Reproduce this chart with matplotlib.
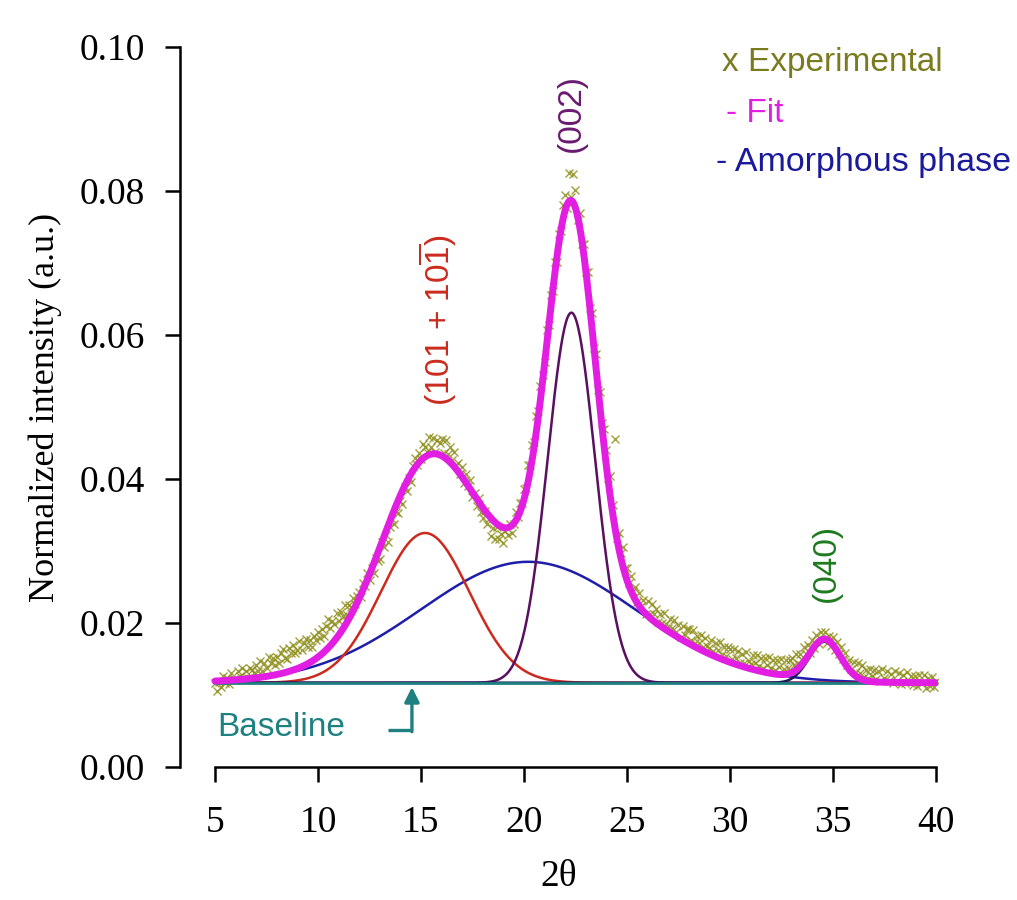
import numpy as np
import matplotlib
matplotlib.use("Agg")
import matplotlib.pyplot as plt

# ---------------- data ----------------
two_theta_start = 5.0
two_theta_step = 0.1
# experimental intensity, units of 1e-4, read every 0.1 deg from 5.0 to 40.0
exp_intensity_e4 = [
    117, 106, 118, 111, 127, 116, 123, 115, 130, 122,
    121, 134, 126, 137, 124, 134, 124, 138, 135, 131,
    142, 134, 147, 133, 144, 138, 153, 144, 151, 141,
    153, 145, 158, 164, 152, 150, 165, 159, 170, 159,
    162, 175, 162, 172, 178, 167, 177, 167, 182, 176,
    187, 179, 191, 182, 196, 205, 193, 203, 199, 214,
    203, 215, 210, 225, 211, 225, 222, 235, 226, 237,
    243, 236, 256, 252, 269, 260, 276, 269, 290, 286,
    289, 312, 306, 322, 313, 333, 344, 337, 354, 353,
    370, 365, 389, 384, 401, 396, 418, 429, 419, 436,
    428, 449, 445, 437, 459, 445, 457, 438, 454, 450,
    455, 436, 454, 435, 444, 427, 438, 419, 422, 407,
    416, 394, 407, 390, 399, 375, 381, 362, 373, 354,
    346, 356, 338, 344, 321, 332, 317, 333, 317, 324,
    311, 328, 322, 337, 325, 338, 354, 347, 366, 366,
    386, 387, 419, 420, 447, 451, 488, 494, 529, 544,
    562, 607, 614, 655, 661, 702, 701, 740, 744, 781,
    795, 776, 825, 792, 823, 802, 760, 769, 726, 726,
    688, 688, 638, 631, 582, 573, 524, 521, 478, 469,
    440, 402, 404, 364, 455, 318, 325, 297, 305, 277,
    276, 256, 265, 244, 250, 229, 242, 224, 232, 213,
    230, 213, 227, 213, 220, 201, 213, 200, 214, 198,
    193, 206, 193, 204, 188, 197, 181, 196, 184, 192,
    191, 177, 190, 172, 182, 172, 184, 167, 179, 168,
    165, 177, 161, 172, 162, 173, 155, 167, 154, 166,
    164, 150, 164, 151, 161, 145, 157, 145, 160, 147,
    143, 155, 145, 155, 140, 151, 138, 151, 141, 153,
    138, 149, 135, 149, 139, 150, 136, 148, 137, 148,
    151, 142, 157, 144, 157, 149, 167, 157, 169, 159,
    176, 165, 183, 171, 188, 176, 187, 172, 182, 168,
    180, 163, 174, 157, 167, 150, 158, 142, 149, 136,
    146, 132, 144, 130, 142, 125, 135, 123, 136, 126,
    135, 122, 133, 120, 136, 123, 134, 120, 129, 117,
    133, 120, 130, 115, 128, 116, 132, 120, 127, 114,
    127, 113, 128, 117, 128, 110, 123, 113, 125, 111,
    120,
]

baseline_level = 0.0117
# crystalline peaks: (101+10-1), (002), (040)
peak_names = ["(101 + 101)", "(002)", "(040)"]
peak_centers = [15.2, 22.3, 34.6]
peak_heights = [0.0208, 0.0514, 0.0057]
peak_sigmas = [2.15, 1.15, 0.75]
# amorphous halo
amorph_center = 20.2
amorph_height = 0.0168
amorph_sigma = 5.2

x_ticks = [5, 10, 15, 20, 25, 30, 35, 40]
y_ticks = [0.00, 0.02, 0.04, 0.06, 0.08, 0.10]
y_ticklabels = ["0.00", "0.02", "0.04", "0.06", "0.08", "0.10"]

# ---------------- style ----------------
plt.rcParams["mathtext.fontset"] = "custom"
plt.rcParams["mathtext.rm"] = "Liberation Sans"
plt.rcParams["mathtext.it"] = "Liberation Sans:italic"

c_exp = "#8E8E1C"
c_fit = "#E21EE2"
c_amorph = "#1E1EAA"
c_101 = "#CC2A1E"
c_002 = "#5A1060"
c_040 = "#1A1A55"
c_base = "#1E8080"

fig = plt.figure(figsize=(10.17, 9.0), dpi=100)
ax = fig.add_axes([180 / 1017, 133 / 900, 758 / 1017, 720 / 900])

x_exp = two_theta_start + two_theta_step * np.arange(len(exp_intensity_e4))
y_exp = np.array(exp_intensity_e4) * 1e-4

grid = np.linspace(5, 40, 1400)


def gauss(x, c, h, s):
    return h * np.exp(-((x - c) ** 2) / (2 * s ** 2))


comps = [gauss(grid, c, h, s) for c, h, s in zip(peak_centers, peak_heights, peak_sigmas)]
amorph = gauss(grid, amorph_center, amorph_height, amorph_sigma)
fit = baseline_level + amorph + sum(comps)

ax.plot(x_exp, y_exp, linestyle="none", marker="x", markersize=5.5,
        markeredgewidth=1.0, color=c_exp, alpha=0.85, zorder=2)

ax.plot(grid, baseline_level + amorph, color=c_amorph, lw=1.8, zorder=4)
for comp, col in zip(comps, [c_101, c_002, c_040]):
    ax.plot(grid, baseline_level + comp, color=col, lw=1.8, zorder=4)
ax.plot([5, 40], [baseline_level, baseline_level], color=c_base, lw=2.0, zorder=4.5)
ax.plot(grid, fit, color=c_fit, lw=5.0, zorder=5, solid_capstyle="round")

# axes styling
ax.set_xlim(3.30, 40.1)
ax.set_ylim(0.0, 0.1)
for s in ["top", "right"]:
    ax.spines[s].set_visible(False)
ax.spines["left"].set_bounds(0.0, 0.1)
ax.spines["bottom"].set_bounds(5, 40)
ax.spines["left"].set_linewidth(1.8)
ax.spines["bottom"].set_linewidth(1.8)
ax.set_xticks(x_ticks)
ax.set_yticks(y_ticks)
ax.set_yticklabels(y_ticklabels)
ax.tick_params(axis="y", direction="out", length=11, width=1.8,
               labelsize=27, pad=14)
ax.tick_params(axis="x", direction="out", length=11, width=1.8,
               labelsize=27, pad=17)
for lab in ax.get_xticklabels() + ax.get_yticklabels():
    lab.set_fontfamily("Liberation Serif")
ax.set_xlabel("2θ", fontsize=27, fontfamily="Liberation Serif", labelpad=14)
ax.set_ylabel("Normalized intensity (a.u.)", fontsize=26,
              fontfamily="Liberation Serif", labelpad=13)

# peak labels
ax.text(15.8, 0.062, r"(101 + 10$\overline{\mathrm{1}}$)", rotation=90, color=c_101,
        fontsize=24, fontfamily="Liberation Sans", ha="center", va="center")
ax.text(22.3, 0.0908, "(002)", rotation=90, color="#6A1A70",
        fontsize=24, fontfamily="Liberation Sans", ha="center", va="center")
ax.text(34.7, 0.0283, "(040)", rotation=90, color="#1E7A1E",
        fontsize=24, fontfamily="Liberation Sans", ha="center", va="center")

# legend-like texts
fig.text(722 / 1017, 1 - 62 / 900, "x Experimental", color="#7A7A1E",
         fontsize=24, fontfamily="Liberation Sans", ha="left", va="center")
fig.text(726 / 1017, 1 - 113 / 900, "- Fit", color=c_fit,
         fontsize=24, fontfamily="Liberation Sans", ha="left", va="center")
fig.text(716 / 1017, 1 - 162 / 900, "- Amorphous phase", color="#1A1A9A",
         fontsize=24.5, fontfamily="Liberation Sans", ha="left", va="center")

# baseline annotation
ax.text(5.1, 0.0055, "Baseline", color=c_base, fontsize=24,
        fontfamily="Liberation Sans", ha="left", va="center")
ax.plot([13.4, 14.56], [0.0051, 0.0051], color=c_base, lw=2.4, zorder=6,
        solid_capstyle="butt")
ax.annotate("", xy=(14.56, 0.0111), xytext=(14.56, 0.0049),
            arrowprops=dict(arrowstyle="-|>", color=c_base, lw=2.4,
                            mutation_scale=22, shrinkA=0, shrinkB=0), zorder=6)

fig.savefig("out.png", dpi=100, facecolor="white")
